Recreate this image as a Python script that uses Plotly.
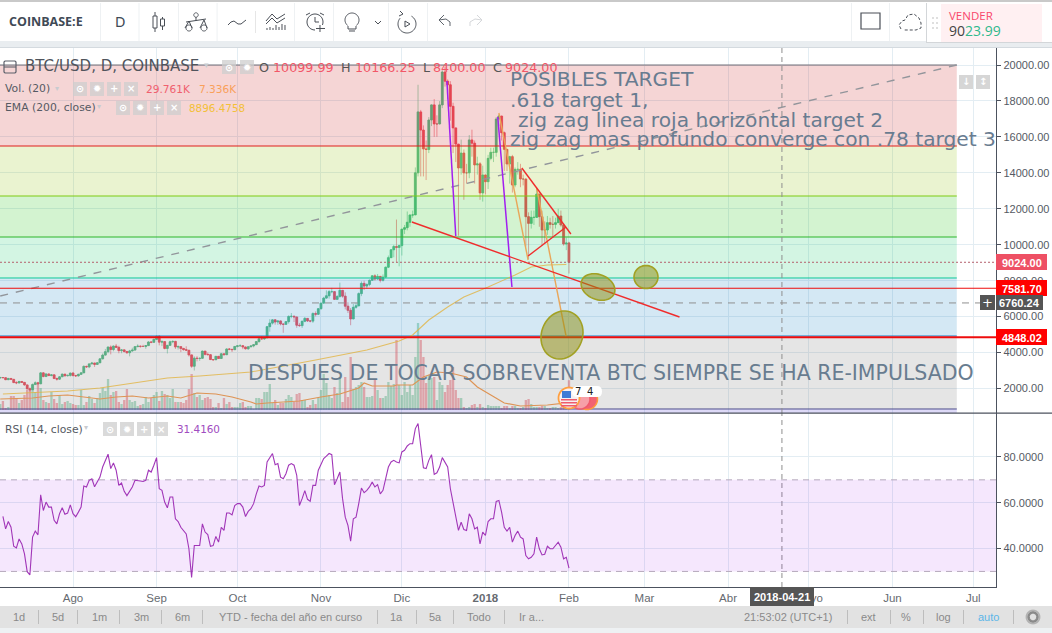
import numpy as np
import pandas as pd
import plotly.graph_objects as go

W, H = 1052, 633

# ---------- data ----------
closes = [2610,2600,2490,2560,2510,2330,2310,2390,2340,2200,1980,1930,2220,2320,2260,2870,2670,2810,2720,2760,2560,2520,2650,2800,2710,2730,2860,
 2720,2700,2790,2870,3230,3200,3370,3420,3340,3430,3650,3860,4050,4310,4170,4360,4290,4110,4150,4060,3990,4090,4140,4330,4360,4340,4340,4390,4590,4570,4730,
 4910,4580,4610,4230,4400,4600,4620,4310,4330,4230,4160,4130,3870,3240,3690,3670,3680,4080,3900,3880,3610,3600,3790,3670,3930,3880,4200,4180,4160,4340,
 4380,4380,4310,4210,4320,4370,4440,4610,4770,4760,4820,5440,5640,5820,5700,5760,5590,5570,5720,6010,6020,5980,5520,5500,5740,5900,5760,5750,6170,6130,6440,
 6750,7030,7160,7390,7390,6960,7120,7460,7140,6580,6350,5870,6520,6600,7280,7850,7700,7790,8020,8270,8090,8240,8020,8200,8750,9280,9720,9900,9850,9950,
 10860,10950,11250,11650,11660,14000,17390,16380,15330,15300,16940,17780,16720,16720,17780,19610,19100,18900,17700,16500,15600,14270,15100,14000,14000,15830,15650,14440,14500,12880,13880,
 13508,14806,15140,15140,16995,17162,16234,15307,14491,14900,13322,14194,14194,13656,13656,11560,11189,11523,11523,12821,11560,10818,10818,11226,11133,11133,11226,11597,11096,10039,10099.99,
 9024]
highs = [2650,2640,2610,2590,2570,2530,2410,2430,2420,2350,2210,2060,2280,2400,2370,2900,2900,2840,2830,2790,2770,2600,2680,2830,2810,2780,2880,
 2920,2760,2820,2900,3290,3270,3380,3480,3410,3460,3690,3950,4200,4330,4400,4390,4480,4380,4190,4130,4090,4150,4270,4360,4460,4380,4430,4400,4630,4620,4780,
 4950,4970,4690,4610,4430,4660,4680,4650,4400,4340,4260,4350,3990,3880,3790,3800,3730,4110,4090,4000,3920,3640,3810,3800,3980,3950,4230,4250,4200,4360,
 4410,4470,4420,4330,4360,4410,4460,4620,4880,4920,4880,5460,5860,5850,5860,5790,5780,5610,5750,6070,6200,6060,6000,5650,5780,5980,5900,5800,6240,6290,6470,
 6770,7100,7460,7480,7600,7410,7200,7890,7470,7350,6800,6480,6700,6760,7350,7960,8000,7850,8070,8300,8360,8370,8260,8350,8780,9400,9750,9990,11400,10000,
 10900,11100,11850,11700,11900,14300,18900,17500,16640,15800,17100,17800,18100,17200,17990,19700,19890,19200,19100,17900,16400,15600,15850,15300,14500,16100,16400,15800,14900,14600,14400,
 13900,15000,15400,15400,17100,17250,17150,16300,15300,14950,15000,14300,14600,14500,13900,13700,11800,11900,11900,13100,12820,11900,11300,11600,11500,11600,11500,12000,11900,11200,10400,
 10166.25]
lows = [2560,2580,2470,2480,2490,2300,2240,2280,2310,2160,1950,1830,1920,2220,2240,2260,2620,2630,2690,2680,2520,2440,2480,2640,2660,2670,2660,
 2670,2640,2670,2750,2860,3150,3130,3350,3200,3320,3420,3620,3840,3960,3900,4070,4250,3960,3960,4000,3930,3790,4050,4100,4300,4270,4320,4210,4360,4520,4550,
 4720,4400,4360,4180,3950,4390,4520,4200,4170,4020,4110,4080,3780,3150,3000,3510,3540,3680,3840,3850,3590,3540,3590,3640,3670,3850,3880,4130,4030,4140,
 4280,4340,4190,4170,4150,4300,4290,4420,4550,4730,4710,4800,5160,5560,5550,5540,5510,5100,5550,5610,5910,5700,5380,5430,5370,5690,5700,5680,5650,6010,6100,
 6390,6750,7000,7000,7300,6950,6950,7050,7050,6400,6200,5520,5860,6440,6580,7140,7480,7550,7690,8010,8000,8050,7900,7950,8150,8700,9260,9300,9000,8800,
 9400,10600,10800,11000,11500,11650,13800,13800,13800,13600,15100,16600,16000,16000,16700,17600,18800,18100,16900,15100,14600,10500,13900,12500,13400,13700,14900,13400,13900,12500,12400,
 12800,13100,14700,14600,14900,16600,15800,14100,14100,13400,12900,13200,13900,13200,13300,9900,9200,10900,11100,11500,11000,9950,10050,10550,10900,10400,10900,11500,11000,9950,9700,
 8400]
first_open = 2590

volumes = [6,9,2,3,14,14,12,7,10,15,20,22,23,18,27,22,10,8,7,18,11,7,15,6,8,9,7,6,5,5,20,5,8,14,11,7,12,17,22,19,31,15,18,19,8,6,10,21,10,8,9,4,5,6,13,8,12,15,18,9,19,16,15,12,21,8,8,8,7,10,21,36,17,
 13,
 15,10,12,13,11,3,3,7,2,12,6,8,3,3,3,7,8,3,4,4,1,12,12,11,18,18,26,7,10,5,7,7,11,15,13,8,16,17,10,10,3,5,10,6,12,20,36,27,15,12,23,17,33,8,33,13,53,21,23,25,28,23,13,13,14,31,20,12,12,14,28,24,26,
 70,
 25,15,28,18,25,15,53,87,70,53,27,35,32,33,10,28,25,18,25,30,43,20,12,12,3,2,3,5,6,3,6,3,2,5,4,4,4,4,2,4,4,2,4,4,2,2,3,10,11,6,3,3,3,4,4,2,2,3,3,2,3,
 3,5,29.8]

vol_ma_dates = ["2017-07-05","2017-07-17","2017-07-23","2017-07-30","2017-08-05","2017-08-11","2017-08-17","2017-08-23","2017-08-29","2017-09-05","2017-09-10","2017-09-16","2017-09-23","2017-09-29","2017-10-06","2017-10-08","2017-10-12","2017-10-17","2017-10-24","2017-11-01","2017-11-08","2017-11-15","2017-11-17","2017-11-20","2017-11-28","2017-11-29","2017-12-05","2017-12-09","2017-12-14","2017-12-19","2017-12-25","2017-12-29","2018-01-03","2018-01-08","2018-01-14","2018-01-24","2018-02-01"]
vol_ma = [11,12,14,15,13,11,13,14,12,14,12,17,16,13,8,6,7,8,9,13,16,22,27,24,24,25,25,33,38,37,33,23,15,7,4,5,7.3]

ema_dates = ["2017-07-06","2017-07-30","2017-08-11","2017-08-23","2017-09-05","2017-09-17","2017-10-06","2017-10-30","2017-11-18","2017-11-30","2017-12-05","2017-12-11","2017-12-18","2017-12-24","2018-01-02","2018-01-12","2018-01-18","2018-01-24","2018-01-31"]
ema = [1695,1861,2028,2306,2585,2696,2918,3586,4143,4643,4977,5812,6535,7092,7648,8316,8761,8872,8896]

rsi = [54.0,48.6,51.8,49.3,41.0,40.3,44.2,42.0,37.7,29.9,28.5,45.0,47.6,46.0,63.5,56.6,60.3,58.1,58.1,52.3,50.8,55.2,57.8,55.0,55.5,59.1,55.2,53.9,55.9,58.1,67.3,66.9,69.8,70.5,67.0,69.0,71.2,75.6,78.5,81.2,74.9,77.4,74.2,67.6,68.6,65.0,63.1,65.0,66.9,69.8,69.8,69.5,69.3,69.8,74.2,73.4,76.4,79.7,66.1,65.4,60.3,57.8,62.5,62.5,53.0,51.8,49.3,47.9,46.4,39.9,27.4,41.3,41.3,41.3,50.8,47.2,46.1,41.0,41.3,45.3,42.8,49.3,47.9,55.5,55.5,54.7,58.8,59.6,59.6,58.1,54.0,56.2,57.4,59.6,63.9,67.3,66.9,67.6,77.8,79.6,81.5,76.6,77.1,71.2,70.5,72.7,76.4,77.1,76.4,72.0,58.8,61.8,65.3,61.5,60.6,67.6,67.6,74.2,77.1,79.3,80.4,81.5,81.0,67.9,70.5,73.4,61.8,53.7,50.1,43.2,53.0,53.7,59.6,66.4,64.4,65.4,66.9,69.0,66.9,67.9,63.9,65.4,70.5,75.6,77.8,78.5,77.8,77.4,82.2,82.9,84.8,85.8,85.8,92.4,94.6,85.8,75.3,74.9,78.5,81.0,72.4,73.1,75.6,79.7,77.8,75.6,66.1,59.6,54.4,47.9,51.5,48.3,47.9,55.2,53.0,48.6,49.3,42.0,47.2,45.7,51.8,53.0,53.0,60.6,61.0,55.9,49.3,47.6,49.3,42.8,45.7,47.6,45.0,44.2,36.9,35.5,36.2,37.7,45.0,39.9,37.2,37.5,41.0,39.9,39.9,41.6,42.8,40.6,35.5,36.2,31.416]

month_ticks = ["2017-08-01","2017-09-01","2017-10-01","2017-11-01","2017-12-01","2018-01-01","2018-02-01","2018-03-01","2018-04-01","2018-05-01","2018-06-01","2018-07-01"]
month_labels = ["Ago","Sep","Oct","Nov","Dic","<b>2018</b>","Feb","Mar","Abr","Mayo","Jun","Jul"]
price_ticks = [2000,4000,6000,8000,10000,12000,14000,16000,18000,20000]
rsi_ticks = [40,60,80]

fib_levels = [20000,15493,12711,10430,8149,4922,860]
fib_lines = ["#6f6f78","#df1e1a","#7fcb12","#2db52a","#0cc89a","#1f7fc4","#4f4f8c"]
fib_fills = ["rgba(205,45,45,0.2)","rgba(150,195,20,0.2)","rgba(35,195,20,0.2)","rgba(35,205,115,0.2)","rgba(40,140,200,0.2)","rgba(125,125,125,0.2)"]
fib_below = 637
fib_end = "2018-06-24 21:00"

last_close = 9024
level_red = [7581.70, 4848.02]
cross_price = 6760.24
cross_date = "2018-04-21"

drawn_diag = (["2017-07-05","2018-06-24 21:00"],[7147,20000])
trend_red = [(["2017-12-04 17:00","2018-03-14"],[11264,5979]),
             (["2018-01-14 12:00","2018-02-01 17:00"],[14269,10597]),
             (["2018-01-16 20:00","2018-01-30 22:00"],[9373,10986])]
trend_purple = [(["2017-12-17 17:00","2017-12-21"],[19110,10486]),
                (["2018-01-05 14:00","2018-01-10 20:00"],[17107,7648])]
trend_orange = [(["2018-01-06","2018-01-16 20:00"],[17329,9150]),
                (["2018-01-20","2018-01-30 22:00"],[13156,4922])]

# ---------- derived ----------
dates = pd.date_range(end="2018-02-01", periods=len(closes), freq="D")
opens = [first_open] + closes[:-1]
highs = [max(h, o, c) for h, o, c in zip(highs, opens, closes)]
lows = [min(l, o, c) for l, o, c in zip(lows, opens, closes)]
vol_dates = pd.date_range(end="2018-02-01", periods=len(volumes), freq="D")
vol_open = dict(zip(dates, opens)); vol_close = dict(zip(dates, closes))
UP = "#53b987"; DOWN = "#eb4d5c"
vol_colors = ["rgba(83,185,135,0.46)" if vol_close.get(d, 0) >= vol_open.get(d, 0) else "rgba(235,77,92,0.46)" for d in vol_dates]
body_colors = [UP if c >= o else DOWN for o, c in zip(opens, closes)]
rsi_dates = pd.date_range(end="2018-02-01", periods=len(rsi), freq="D")

x_start, x_end = "2017-07-04 22:00", "2018-07-09 10:00"

fig = go.Figure()
# volume is on the base subplot so the Fibonacci bands tint it
fig.add_trace(go.Bar(x=vol_dates, y=volumes, marker=dict(color=vol_colors, line=dict(width=0)), width=86400000*0.86,
                     xaxis="x", yaxis="y", hoverinfo="skip"))
fig.add_trace(go.Scatter(x=vol_ma_dates, y=vol_ma, mode="lines", line=dict(color="#f79a4b", width=1.2), xaxis="x", yaxis="y", hoverinfo="skip"))
# wider candle bodies, with the candlestick trace supplying the thin wicks
fig.add_trace(go.Bar(x=dates, base=[min(o, c) for o, c in zip(opens, closes)], y=[abs(c - o) for o, c in zip(opens, closes)],
                     marker=dict(color=body_colors, line=dict(color=body_colors, width=0.5)), width=86400000*0.78,
                     xaxis="x", yaxis="y2", hoverinfo="skip"))
fig.add_trace(go.Candlestick(x=dates, open=opens, high=highs, low=lows, close=closes, xaxis="x", yaxis="y2",
                             increasing=dict(line=dict(color="rgba(83,185,135,0.55)", width=1), fillcolor=UP),
                             decreasing=dict(line=dict(color="rgba(235,77,92,0.55)", width=1), fillcolor=DOWN),
                             whiskerwidth=0, hoverinfo="skip"))
# bands
for i, col in enumerate(fib_fills):
    fig.add_trace(go.Scatter(x=[x_start, fib_end, fib_end, x_start, x_start],
                             y=[fib_levels[i], fib_levels[i], fib_levels[i+1], fib_levels[i+1], fib_levels[i]],
                             mode="lines", line=dict(width=0), fill="toself", fillcolor=col, xaxis="x", yaxis="y2", hoverinfo="skip"))
fig.add_trace(go.Scatter(x=[x_start, fib_end, fib_end, x_start, x_start],
                         y=[fib_levels[-1], fib_levels[-1], fib_below, fib_below, fib_levels[-1]],
                         mode="lines", line=dict(width=0), fill="toself", fillcolor="rgba(100,80,220,0.22)", xaxis="x", yaxis="y2", hoverinfo="skip"))
for lv, col in zip(fib_levels, fib_lines):
    fig.add_trace(go.Scatter(x=[x_start, fib_end], y=[lv, lv], mode="lines", line=dict(color=col, width=1.0), xaxis="x", yaxis="y2", hoverinfo="skip"))

def ln(xs, ys, color, width=1.0, dash="solid", axis="y2", xa="x"):
    fig.add_trace(go.Scatter(x=xs, y=ys, mode="lines", line=dict(color=color, width=width, dash=dash), xaxis=xa, yaxis=axis, hoverinfo="skip"))

ln(ema_dates, ema, "rgba(226,178,62,0.78)", 1.1)
ln(drawn_diag[0], drawn_diag[1], "#92959b", 1.4, "8px,8px")
ln([x_start, x_end], [last_close, last_close], "#b4606c", 1, "2px,2px")
ln([x_start, x_end], [cross_price, cross_price], "#8f8f8f", 1, "7px,6px")
ln([cross_date, cross_date], [637, 20946], "#8f8f8f", 1, "5px,4px")
ln([cross_date, cross_date], [23.2, 99.2], "#8f8f8f", 1, "5px,4px", axis="y3", xa="x2")
for lv, w in zip(level_red, [1.1, 2.0]):
    ln([x_start, x_end], [lv, lv], "#ee0d0d", w)
for xs, ys in trend_orange:
    ln(xs, ys, "#e9a659", 1.4)
for xs, ys in trend_purple:
    ln(xs, ys, "#a11ff0", 1.5)
for xs, ys in trend_red:
    ln(xs, ys, "#f02c2c", 1.4)

# RSI pane
fig.add_trace(go.Scatter(x=[x_start, x_end, x_end, x_start, x_start], y=[70, 70, 30, 30, 70], mode="lines", line=dict(width=0),
                         fill="toself", fillcolor="rgba(153,21,240,0.10)", xaxis="x2", yaxis="y3", hoverinfo="skip"))
for lv in (70, 30):
    ln([x_start, x_end], [lv, lv], "#b5a9bb", 1, "6px,5px", axis="y3", xa="x2")
ln(rsi_dates, rsi, "#a136b8", 1.1, axis="y3", xa="x2")

# ---------- chrome (pixel helpers) ----------
def px(x): return x / W
def py(y): return 1 - y / H
shapes = []
ann = []

def rect(x0, y0, x1, y1, fill, line=None, lw=1):
    shapes.append(dict(type="rect", xref="paper", yref="paper", x0=px(x0), x1=px(x1), y0=py(y1), y1=py(y0),
                       fillcolor=fill, line=dict(color=line or fill, width=lw if line else 0), layer="above"))

def seg(points, color, lw=1.0, close=False, fill=None, dash=None):
    d = "M " + " L ".join(f"{px(a):.5f},{py(b):.5f}" for a, b in points) + (" Z" if close else "")
    shapes.append(dict(type="path", xref="paper", yref="paper", path=d, fillcolor=fill or "rgba(0,0,0,0)",
                       line=dict(color=color, width=lw, dash=dash or "solid"), layer="above"))

def ell(cx, cy, a, b, deg=0, color="#555", lw=1.0, fill=None, t0=0, t1=360, close=True):
    t = np.radians(np.linspace(t0, t1, 49))
    th = np.radians(deg)
    xs = cx + a*np.cos(t)*np.cos(th) - b*np.sin(t)*np.sin(th)
    ys = cy + a*np.cos(t)*np.sin(th) + b*np.sin(t)*np.cos(th)
    seg(list(zip(xs, ys)), color, lw, close, fill)

def txt(x, y, s, size=12, color="#333", anchor="left", font="DejaVu Sans"):
    ann.append(dict(xref="paper", yref="paper", x=px(x), y=py(y), text=s, showarrow=False, xanchor=anchor, yanchor="middle",
                    font=dict(size=size, color=color, family=font), borderpad=0, borderwidth=0, align="left"))

# top toolbar
rect(0, 0, W, 2, "#c9c9c9")
rect(0, 2, W, 41, "#ffffff")
rect(0, 41, W, 47, "#e9edf0")
rect(0, 47, W, 48, "#d4dadf")
for xd in (100, 138.5, 178, 216.6, 294, 333, 388, 427, 851, 889):
    rect(xd, 3, xd+1, 41, "#eef1f3")
rect(255, 11, 256, 33, "#e6e6e6")
txt(9, 22, "<b>COINBASE:E</b>", 12.5, "#3f4a56", font="Open Sans")
txt(120, 22, "D", 13.5, "#3f4a56", "center")
IC = "#4a4f57"
# candles icon
seg([(155, 12), (155, 32)], IC); rect(153, 16, 157, 28, "#fff", IC)
seg([(162.5, 17), (162.5, 30)], IC); rect(160.5, 19, 164.5, 26, "#fff", IC)
# alternative / scale icon
ell(196, 15, 2.2, 2.2, color=IC); seg([(196, 17), (196, 21)], IC); seg([(186, 22), (206, 19)], IC)
ell(189, 28, 3, 3, color=IC); ell(204, 28, 3, 3, color=IC); seg([(185, 28), (189, 21), (192, 28)], IC); seg([(200, 28), (204, 20), (207, 28)], IC)
# wave
seg([(228, 25), (231, 22), (234, 21), (238, 24), (241, 24), (246, 20)], IC)
# indicators
seg([(266, 21), (272, 14), (277, 19), (285, 14)], IC); seg([(266, 24), (272, 18), (277, 23), (285, 18)], IC)
for i, xb in enumerate(range(267, 286, 3)):
    seg([(xb, 30), (xb, 30 - [2, 3, 2, 5, 3, 6, 5][i])], IC)
# alarm
ell(315, 22, 8, 8, color=IC); seg([(315, 17), (315, 22), (319, 22)], IC)
seg([(306, 15), (310, 13)], IC); seg([(320, 13), (324, 15)], IC)
rect(315, 25, 325, 33, "#fff"); seg([(320, 25), (320, 32)], IC); seg([(316, 28.5), (325, 28.5)], IC)
# bulb
ell(352, 20, 7, 7, color=IC, t0=130, t1=410, close=False)
seg([(348, 26), (348, 29), (356, 29), (356, 26)], IC); seg([(349, 31), (355, 31)], IC)
seg([(375, 21), (378, 24), (381, 21)], IC)
# replay
ell(407, 24, 9, 9, color=IC, t0=-60, t1=220, close=False); seg([(403, 14), (400, 11)], IC); seg([(403, 14), (399, 16)], IC)
seg([(405, 21), (410, 24), (405, 27)], IC, close=True)
# undo / redo
seg([(444, 15), (439, 20), (444, 25)], "#5e646c"); seg([(439, 20), (446, 19), (450, 22), (450, 26)], "#5e646c")
seg([(477, 15), (482, 20), (477, 25)], "#d5d7da"); seg([(482, 20), (475, 19), (470, 22), (470, 26)], "#d5d7da")
# right tools
rect(861, 13, 880, 29, "#fff", "#4a4f57", 1.2)
seg([(901, 29), (899, 25), (902, 21), (905, 20), (908, 15), (914, 14), (919, 18), (921, 23), (921, 28), (916, 30), (903, 30)], "#4a4f57", 1, dash="3px,2px")
rect(926, 3, W, 43, "#d3d6d9"); rect(927, 3, W, 42, "#ffffff")
rect(941, 4, 1042, 42, "#fff0f2")
for a in (932, 936):
    for b in (17, 22, 27):
        rect(a, b, a+2, b+2, "#dfdfdf")
txt(949, 15, "VENDER", 11.5, "#f9476b", font="Open Sans")
txt(949, 30, "90<span style='color:#30b98c'>23.99</span>", 14, "#444", font="Open Sans")

# main legend
seg([(5, 61), (15, 61), (16, 62), (16, 72), (15, 73), (5, 73), (4, 72), (4, 62)], "#5d606b", 1.2, close=True)
seg([(4, 67), (16, 67)], "#5d606b", 1.1)
TX = "#555a63"
RD = "#f25768"
def glyph_boxes(xs, y, size):
    glyphs = ["⊙", "✹", "+", "×"]
    for xb, g in zip(xs, glyphs):
        rect(xb, y-size/2, xb+size, y+size/2, "rgba(205,205,205,0.75)")
        txt(xb+size/2, y, "<b>"+g+"</b>", 10, "#ffffff", "center")
txt(25, 66, "BTC/USD, D, COINBASE", 15, "#50545c")
txt(204, 65, "▾", 9, "#c8cbd0", "left")
glyph_boxes([222, 240], 67, 14)
txt(259, 67, "O", 12.7, "#555")
txt(273, 67, "10099.99", 12.7, RD)
txt(341, 67, "H", 12.7, "#555")
txt(355, 67, "10166.25", 12.7, RD)
txt(423, 67, "L", 12.7, "#555")
txt(433, 67, "8400.00", 12.7, RD)
txt(493, 67, "C", 12.7, "#555")
txt(505, 67, "9024.00", 12.7, RD)
txt(5, 89, "Vol. (20)", 10.8, TX)
txt(55, 88, "▾", 8, "#c8cbd0")
glyph_boxes([73, 90, 107, 124], 89, 14)
txt(146, 89, "29.761K", 10.6, "#f0606e")
txt(199, 89, "7.336K", 10.6, "#f9a05a")
txt(5, 108, "EMA (200, close)", 10.8, TX)
txt(97, 107, "▾", 8, "#c8cbd0")
glyph_boxes([116, 133, 150, 167], 108, 14)
txt(189, 108, "8896.4758", 10.4, "#f3c038")
# RSI legend
txt(5, 429, "RSI (14, close)", 10.8, TX)
txt(84, 428, "▾", 8, "#c8cbd0")
glyph_boxes([103, 120, 137, 154], 429, 14)
txt(177, 429, "31.4160", 10.4, "#a04cc0")

# scale buttons
rect(959, 75, 973, 89, "#d6d6d6"); txt(966, 82, "<b>↓</b>", 10, "#fff", "center")
rect(976, 75, 990, 89, "#d6d6d6"); txt(983, 82, "<b>↕</b>", 10, "#fff", "center")

# drawing text
DT = "#687c90"
txt(510, 79, "POSIBLES TARGET", 20.2, DT)
txt(510, 100, ".618 target 1,", 20.2, DT)
txt(518, 120, "zig zag linea roja horizontal target 2", 20.2, DT)
txt(510, 139, "zig zag mas profundo converge con .78 target 3", 20.2, DT)
txt(248, 373, "DESPUES DE TOCAR SOBREVENTA BTC SIEMPRE SE HA RE-IMPULSADO", 20.5, DT)

# ellipses
OL = "rgba(140,140,10,0.5)"; OLL = "#a2a124"
ell(562, 335, 24.5, 20.5, -70, OLL, 1.6, OL)
ell(598, 287, 17.5, 12.5, 22, OLL, 1.6, OL)
ell(646, 277, 12, 11.5, 0, OLL, 1.6, OL)

# event flags
ell(587, 399, 10.5, 10.5, color="#ff9a3c", lw=1.5, fill="#f26272")
ell(580, 399, 10, 10, color="#f05a6c", lw=1.5, fill="#f7a0a8")
ell(569, 398, 10.5, 10.5, color="#ffa040", lw=1.8, fill="#f6f0f2")
for yy in (399, 402, 405):
    rect(561, yy, 577, yy+1.5, "#ef5a6c")
rect(562, 391, 571, 398, "#3f7bd6")
shapes.append(dict(type="path", xref="paper", yref="paper", layer="above", fillcolor="#ffffff", line=dict(width=0),
                   path=f"M {px(578):.5f},{py(386):.5f} L {px(597):.5f},{py(386):.5f} Q {px(602):.5f},{py(386):.5f} {px(602):.5f},{py(391.5):.5f} Q {px(602):.5f},{py(397):.5f} {px(597):.5f},{py(397):.5f} L {px(578):.5f},{py(397):.5f} Q {px(572):.5f},{py(397):.5f} {px(572):.5f},{py(391.5):.5f} Q {px(572):.5f},{py(386):.5f} {px(578):.5f},{py(386):.5f} Z"))
txt(578, 391.5, "7", 10, "#222", "center")
txt(590, 391.5, "4", 10, "#222", "center")

# pane separator
rect(0, 412.5, W, 413.7, "#4c525e")

# price labels
def plabel(x0, y0, x1, y1, s, bg):
    rect(x0, y0, x1, y1, bg)
    txt((x0+x1)/2, (y0+y1)/2+0.5, "<b>"+s+"</b>", 11, "#ffffff", "center", "Liberation Sans")
plabel(996, 254, 1047, 270, "9024.00", "#ee5064")
plabel(996, 280, 1047, 296, "7581.70", "#ff0000")
plabel(996, 295, 1043, 310, "6760.24", "#555555")
rect(980, 295, 995, 310, "#555555"); txt(987.5, 302, "+", 13, "#ffffff", "center")
plabel(996, 329, 1047, 345, "4848.02", "#ff0000")
# crosshair date
plabel(750, 587, 814, 606, "2018-04-21", "#555555")

# bottom bar
rect(0, 606, W, 628, "#e2e2e2")
rect(0, 628, W, H, "#eef1f3")
for xd in (38, 77, 119, 161, 202, 377, 416, 453, 504, 847, 890, 923, 963, 1013):
    rect(xd, 610, xd+1, 624, "#bdbdbd")
BT = "#8a8a8a"
for x_, s in [(19, "1d"), (58, "5d"), (99, "1m"), (141, "3m"), (182, "6m"), (290, "YTD - fecha del año en curso"),
              (396, "1a"), (435, "5a"), (479, "Todo"), (531, "Ir a..."), (788, "21:53:02 (UTC+1)"), (868, "ext"), (906, "%"), (943, "log")]:
    txt(x_, 617, s, 11, BT, "center", "Liberation Sans")
txt(988, 617, "auto", 11, "#5cb6e8", "center", "Liberation Sans")
ell(1033, 617, 4.5, 4.5, color="#8a8a8a", lw=2.4)
ell(1033, 617, 6.6, 6.6, color="rgba(138,138,138,0.55)", lw=1.6)

# ---------- layout ----------
GRID = "#e3edf3"
AX = "#4c525e"
main_dom = [1-413/H, 1-48/H]
rsi_dom = [1-587/H, 1-413/H]
xdom = [0, 996/W]
fig.update_layout(
    width=W, height=H, margin=dict(l=0, r=0, t=0, b=0, pad=0), autosize=False,
    paper_bgcolor="#ffffff", plot_bgcolor="#ffffff", showlegend=False, hovermode=False,
    barmode="overlay", boxgap=0.3, dragmode=False,
    shapes=shapes, annotations=ann,
    xaxis=dict(domain=xdom, range=[x_start, x_end], type="date", anchor="y", tickmode="array", tickvals=month_ticks,
               ticktext=[""]*len(month_ticks), showgrid=True, gridcolor=GRID, gridwidth=1, zeroline=False, showline=False,
               ticks="", rangeslider=dict(visible=False), fixedrange=True),
    xaxis2=dict(domain=xdom, range=[x_start, x_end], type="date", anchor="y3", matches="x", tickmode="array", tickvals=month_ticks,
                ticktext=month_labels, tickfont=dict(size=11.5, color="#666a70", family="Liberation Sans"), showgrid=True, gridcolor=GRID,
                gridwidth=1, zeroline=False, showline=True, linecolor=AX, linewidth=1.3, ticks="", tickangle=0, fixedrange=True),
    yaxis=dict(domain=main_dom, range=[-3, 362], visible=False, fixedrange=True),
    yaxis2=dict(domain=main_dom, range=[637, 20946], overlaying="y", side="right", anchor="x", tickmode="array", tickvals=price_ticks,
                tickformat=".2f", tickfont=dict(size=11, color="#555a63", family="Liberation Sans"), showgrid=True, gridcolor=GRID,
                gridwidth=1, zeroline=False, showline=True, linecolor=AX, linewidth=1.3, ticks="outside", ticklen=4, tickcolor=AX, fixedrange=True),
    yaxis3=dict(domain=rsi_dom, range=[23.2, 99.2], side="right", anchor="x2", tickmode="array", tickvals=rsi_ticks, tickformat=".4f",
                tickfont=dict(size=11, color="#555a63", family="Liberation Sans"), showgrid=True, gridcolor=GRID, gridwidth=1,
                zeroline=False, showline=True, linecolor=AX, linewidth=1.3, ticks="outside", ticklen=4, tickcolor=AX, fixedrange=True),
)

fig.write_html("out.html", config=dict(displayModeBar=False, staticPlot=True),
               post_script="document.documentElement.style.overflow='hidden';document.body.style.margin='0';document.body.style.overflow='hidden';")
